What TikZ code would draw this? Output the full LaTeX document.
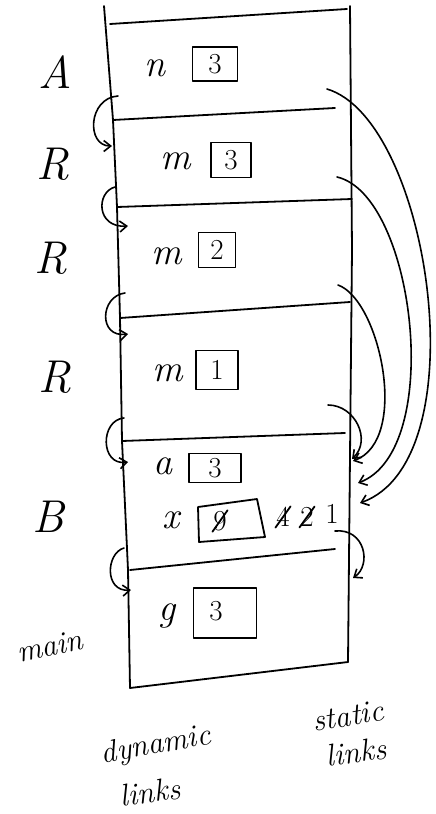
\documentclass[tikz,border=0pt]{standalone}
\usetikzlibrary{arrows.meta}
\begin{document}
\begin{tikzpicture}[x=1pt,y=-1pt, line width=1.8pt, line cap=round, line join=round,
  lbl/.style={font=\fontsize{46}{48}\selectfont\itshape, inner sep=0pt},
  var/.style={font=\fontsize{38}{40}\selectfont\itshape, inner sep=0pt},
  digit/.style={font=\fontsize{29}{31}\selectfont, inner sep=0pt},
  valbox/.style={draw, line width=1.8pt, font=\fontsize{29}{31}\selectfont, inner sep=0pt},
  note/.style={font=\fontsize{31}{33}\selectfont\itshape, inner sep=0pt},
  link/.style={line width=1.6pt, -{Straight Barb[length=7pt,width=11pt,line width=1.6pt]}}]
\useasboundingbox (0,0) rectangle (436,814);

% stack frame outline
\draw (104,6) -- (113,120) -- (117,207) -- (120,318) -- (122,441) -- (128,570) -- (130,688);
\draw (350,6) -- (352,250) -- (348,662);
\draw (110,24) -- (347,9);
\draw (113,120) -- (335,108);
\draw (117,207) -- (352,199);
\draw (120,318) -- (350,302);
\draw (122,441) -- (345,433);
\draw (130,570) -- (335,549);
\draw (130,688) -- (348,662);

% frame labels
\node[lbl] (lA) at (55,72) {A};
\node[lbl] (lR1) at (53,164) {R};
\node[lbl] (lR2) at (51,258) {R};
\node[lbl] (lR3) at (55,377) {R};
\node[lbl] (lB) at (48,517) {B};
\node[note, rotate=12] (lmain) at (50,646) {main};

% variables
\node[var] (vn) at (155,68) {n};
\node[valbox, minimum width=45pt, minimum height=34pt] (bn) at (215,64) {3};
\node[var] (vm1) at (176,161) {m};
\node[valbox, minimum width=40pt, minimum height=35pt] (bm1) at (231,160) {3};
\node[var] (vm2) at (167,256) {m};
\node[valbox, minimum width=37pt, minimum height=35pt] (bm2) at (217,250) {2};
\node[var] (vm3) at (168,373) {m};
\node[valbox, minimum width=42pt, minimum height=39pt] (bm3) at (217,370) {1};
\node[var] (va) at (163,466) {a};
\node[valbox, minimum width=52pt, minimum height=29pt] (ba) at (215,468) {3};
\node[var] (vx) at (171,520) {x};
\draw (198,507) -- (257,499) -- (265,537) -- (199,542) -- cycle;
\node[digit] (x9) at (220,521) {9};
\draw (x9.south west) -- (x9.north east);
\node[digit] (x4) at (283,517) {4};
\draw (x4.south west) -- (x4.north east);
\node[digit] (x2) at (307,517) {2};
\draw (x2.south west) -- (x2.north east);
\node[digit] (x1) at (332,514) {1};
\node[var] (vg) at (167,616) {g};
\node[valbox, minimum width=63pt, minimum height=50pt] (bg) at (225,613) {};
\node[digit] (g3) at (216,611) {3};

% dynamic links
\coordinate (d1s) at (118,96);  \coordinate (d1e) at (112,146);
\coordinate (d2s) at (115,187); \coordinate (d2e) at (128,226);
\coordinate (d3s) at (125,293); \coordinate (d3e) at (128,334);
\coordinate (d4s) at (124,418); \coordinate (d4e) at (128,462);
\coordinate (d5s) at (124,548); \coordinate (d5e) at (131,590);
\draw[link] (d1s) .. controls (88,98) and (86,146) .. (d1e);
\draw[link] (d2s) .. controls (96,192) and (96,228) .. (d2e);
\draw[link] (d3s) .. controls (100,296) and (98,338) .. (d3e);
\draw[link] (d4s) .. controls (100,420) and (100,466) .. (d4e);
\draw[link] (d5s) .. controls (106,553) and (104,592) .. (d5e);

% static links
\coordinate (s1s) at (327,89);  \coordinate (s1e) at (360,503);
\coordinate (s2s) at (337,177); \coordinate (s2e) at (358,483);
\coordinate (s3s) at (338,285); \coordinate (s3e) at (353,461);
\coordinate (s4s) at (328,405); \coordinate (s4e) at (352,459);
\coordinate (s5s) at (335,531); \coordinate (s5e) at (353,578);
\draw[link] (s1s) .. controls (430,120) and (480,460) .. (s1e);
\draw[link] (s2s) .. controls (415,195) and (445,450) .. (s2e);
\draw[link] (s3s) .. controls (380,300) and (410,440) .. (s3e);
\draw[link] (s4s) .. controls (355,405) and (372,440) .. (s4e);
\draw[link] (s5s) .. controls (365,528) and (372,565) .. (s5e);

% captions
\node[note, rotate=10] (cdyn) at (156,746) {dynamic};
\node[note, rotate=8] (cdl) at (150,792) {links};
\node[note, rotate=10] (cst) at (348,716) {static};
\node[note, rotate=8] (csl) at (356,752) {links};
\end{tikzpicture}
\end{document}
